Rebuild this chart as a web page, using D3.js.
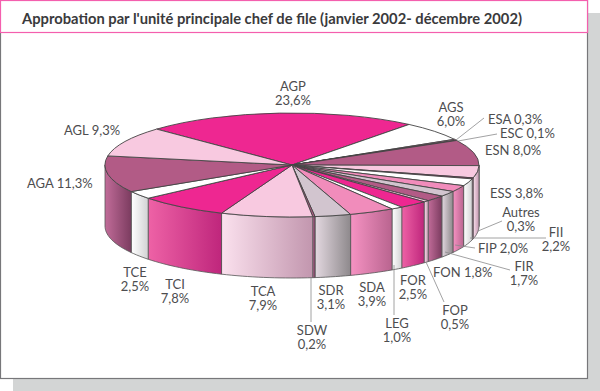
<!DOCTYPE html>
<html>
<head>
<meta charset="utf-8">
<script src="https://cdn.jsdelivr.net/npm/d3@7"></script>
<style>
  html, body { margin: 0; padding: 0; background: #fff; }
  svg { display: block; }
  text { font-family: Lato, "Open Sans", sans-serif; fill: #4d4d4f; }
</style>
</head>
<body>
<div id="chart"></div>
<script>
// Data, clockwise from the AGP slice
const codes = ["AGP", "AGS", "ESA", "ESC", "ESN", "ESS", "Autres", "FII", "FIP", "FIR", "FON",
	"FOP", "FOR", "LEG", "SDA", "SDR", "SDW", "TCA", "TCI", "TCE", "AGA", "AGL"];
const shares = [23.6, 6.0, 0.3, 0.1, 8.0, 3.8, 0.3, 2.2, 2.0, 1.7, 1.8,
	0.5, 2.5, 1.0, 3.9, 3.1, 0.2, 7.9, 7.8, 2.5, 11.3, 9.3];
const titleText = "Approbation par l'unité principale chef de file (janvier 2002- décembre 2002)";

// Colour cycle used by the slices
const swatches = ["magenta", "white", "rose", "grey", "mauve", "pale", "magenta", "white", "rose", "grey", "mauve",
	"pale", "magenta", "white", "rose", "grey", "mauve", "pale", "magenta", "white", "mauve", "pale"];
const palette = {
	magenta: { top: "#ee2791", light: "#ee62a6", dark: "#bf267c" },
	white: { top: "#ffffff", light: "#ffffff", dark: "#d2d2d4" },
	rose: { top: "#f18cbb", light: "#f693c3", dark: "#b9648f" },
	grey: { top: "#d2c5cf", light: "#e3d8e0", dark: "#8e898c" },
	mauve: { top: "#b25b86", light: "#c16c99", dark: "#7c3c60" },
	pale: { top: "#f8c9e0", light: "#fbe1ee", dark: "#c296ae" }
};

// Label placement: [x, baseline y, anchor, one line?]
const labelPos = {
	AGP: [293, 91, "middle"], AGS: [451, 112, "middle"],
	ESA: [488, 124, "start", true], ESC: [500, 138, "start", true],
	ESN: [485, 155, "start", true], ESS: [490, 198, "start", true],
	Autres: [521, 217, "middle"], FII: [556, 237, "middle"],
	FIP: [478, 253, "start", true], FIR: [524, 271, "middle"],
	FON: [433, 277, "start", true], FOP: [455, 315, "middle"],
	FOR: [413, 285, "middle"], LEG: [397, 328, "middle"],
	SDA: [372, 292, "middle"], SDR: [331, 295, "middle"],
	SDW: [312, 335, "middle"], TCA: [263, 296, "middle"],
	TCI: [175, 289, "middle"], TCE: [135, 277, "middle"],
	AGA: [27, 188, "start", true], AGL: [64, 135, "start", true]
};

// Leader lines for the labels that sit away from their slice
const leaders = [
	[[456, 140], [484, 118]], [[458, 141], [497, 134]], [[478, 231], [502, 221]],
	[[470, 238], [546, 238]], [[455, 245], [475, 248]], [[445, 252], [510, 270]],
	[[426, 262], [444, 302]], [[394, 265], [394, 315]], [[311, 278], [311, 322]]
];

const width = 600, height = 391;
const cx = 292, cy = 165, rx = 187, ry = 52, depth = 61;
const startAngle = -46.4 * Math.PI / 180;

const svg = d3.select("#chart").append("svg")
	.attr("width", width)
	.attr("height", height);

// Drop shadow and frame
svg.append("rect").attr("x", 13).attr("y", 13).attr("width", 587).attr("height", 378).attr("fill", "#d3d5d5");
svg.append("rect").attr("x", 0.5).attr("y", 0.5).attr("width", 587).attr("height", 378)
	.attr("fill", "#fff").attr("stroke", "#77777a").attr("stroke-width", 1.2);
svg.append("rect").attr("x", 0.5).attr("y", 0.5).attr("width", 587).attr("height", 32)
	.attr("fill", "#fff").attr("stroke", "#f45fae").attr("stroke-width", 1.2);

svg.append("text")
	.attr("x", 22).attr("y", 24)
	.attr("font-size", 15.5).attr("font-weight", 700)
	.attr("textLength", 500).attr("lengthAdjust", "spacingAndGlyphs")
	.style("fill", "#3a3a3c")
	.text(titleText);

const slices = d3.pie()
	.sort(null)
	.startAngle(startAngle)
	.endAngle(startAngle + 2 * Math.PI)(shares);

const px = a => cx + rx * Math.sin(a);
const py = a => cy - ry * Math.cos(a);

// One gradient per colour, light on the left and dark on the right
const defs = svg.append("defs");
Object.keys(palette).forEach(function(key) {
	const grad = defs.append("linearGradient").attr("id", "side-" + key);
	grad.append("stop").attr("offset", "0%").attr("stop-color", palette[key].light);
	grad.append("stop").attr("offset", "100%").attr("stop-color", palette[key].dark);
});

// Side wall: only the part of each slice facing the viewer
const wall = d3.line();
function sidePath(d) {
	const a0 = Math.max(d.startAngle, Math.PI / 2);
	const a1 = Math.min(d.endAngle, 3 * Math.PI / 2);
	if (a1 <= a0) return null;
	const n = Math.max(2, Math.ceil((a1 - a0) / 0.03));
	const steps = d3.range(n + 1).map(i => a0 + (a1 - a0) * i / n);
	const upper = steps.map(a => [px(a), py(a)]);
	const lower = steps.slice().reverse().map(a => [px(a), py(a) + depth]);
	return wall(upper.concat(lower)) + "Z";
}

svg.append("g").selectAll("path")
	.data(slices.filter(d => sidePath(d)))
	.join("path")
	.attr("d", sidePath)
	.attr("fill", d => "url(#side-" + swatches[d.index] + ")")
	.attr("stroke", "#555")
	.attr("stroke-width", 0.8)
	.attr("stroke-linejoin", "round");

// Top face, a unit pie squashed into the ellipse
const arc = d3.arc().innerRadius(0).outerRadius(1);

svg.append("g")
	.attr("transform", "translate(" + cx + "," + cy + ") scale(" + rx + "," + ry + ")")
	.selectAll("path")
	.data(slices)
	.join("path")
	.attr("d", arc)
	.attr("fill", d => palette[swatches[d.index]].top)
	.attr("stroke", "#444")
	.attr("stroke-width", 0.9)
	.attr("vector-effect", "non-scaling-stroke")
	.attr("stroke-linejoin", "round");

// Leader lines
svg.append("g").selectAll("path")
	.data(leaders)
	.join("path")
	.attr("d", d3.line())
	.attr("fill", "none")
	.attr("stroke", "#8a8a8c")
	.attr("stroke-width", 0.8);

// Labels
const pct = v => v.toFixed(1).replace(".", ",") + "%";

const labels = svg.append("g").attr("font-size", 13).selectAll("text")
	.data(codes)
	.join("text")
	.attr("x", d => labelPos[d][0])
	.attr("y", d => labelPos[d][1])
	.attr("text-anchor", d => labelPos[d][2]);

labels.each(function(d, i) {
	const el = d3.select(this);
	const p = labelPos[d];
	if (p[3]) {
		el.text(d + " " + pct(shares[i]));
		return;
	}
	el.append("tspan").attr("x", p[0]).text(d);
	el.append("tspan").attr("x", p[0]).attr("dy", 13.6).text(pct(shares[i]));
});
</script>
</body>
</html>
